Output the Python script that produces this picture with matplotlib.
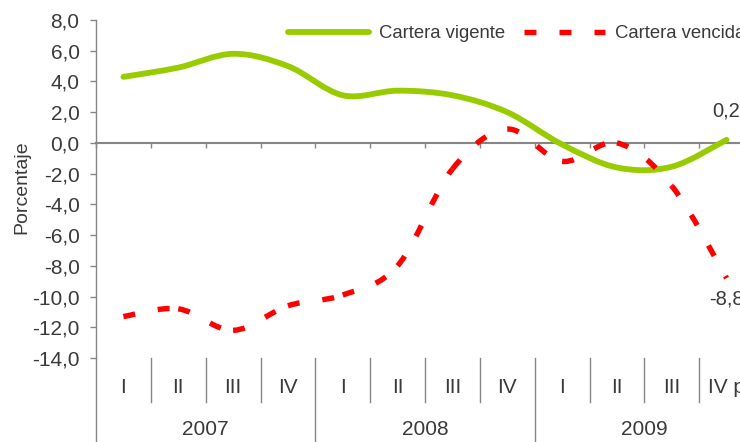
import numpy as np
import matplotlib
matplotlib.use("Agg")
import matplotlib.pyplot as plt
from matplotlib.path import Path
from matplotlib.patches import PathPatch
from matplotlib.lines import Line2D

plt.rcParams['font.family'] = ['Liberation Sans', 'DejaVu Sans']
plt.rcParams['lines.scale_dashes'] = False

# ---- data ----
quarters = ["I", "II", "III", "IV", "I", "II", "III", "IV", "I", "II", "III", "IV p"]
years = ["2007", "2008", "2009"]
vigente = [4.3, 4.9, 5.8, 5.0, 3.1, 3.4, 3.1, 2.0, -0.1, -1.6, -1.55, 0.2]
vencida = [-11.3, -10.8, -12.2, -10.6, -9.9, -8.0, -1.7, 0.9, -1.2, 0.0, -2.8, -8.8]
series_names = ["Cartera vigente", "Cartera vencida"]
yticks = np.arange(-14, 8.1, 2)

GREEN = "#99CC00"
RED = "#FF0000"
GRAY = "#868686"
TXT = "#3a3a3a"

x = np.arange(len(quarters)) + 0.5


def smooth_segments(xs, ys):
    """Bezier control points (Excel-like smoothed line) for each segment."""
    P = np.column_stack([xs, ys]).astype(float)
    n = len(P)
    m = np.zeros_like(P)
    for i in range(n):
        a = P[max(i - 1, 0)]
        b = P[min(i + 1, n - 1)]
        m[i] = (b - a) / 2.0
    segs = []
    for i in range(n - 1):
        segs.append([P[i], P[i] + m[i] / 3.0, P[i + 1] - m[i + 1] / 3.0, P[i + 1]])
    return segs


fig = plt.figure(figsize=(7.4, 4.42), dpi=100)
ax = fig.add_axes([96 / 740, 1 - 358 / 442, (754 - 96) / 740, 338 / 442])
ax.set_xlim(0, 12)
ax.set_ylim(-14, 8)

# green smooth line (single path)
segs = smooth_segments(x, vigente)
verts = [segs[0][0]]
codes = [Path.MOVETO]
for s in segs:
    verts += [s[1], s[2], s[3]]
    codes += [Path.CURVE4] * 3
ax.add_patch(PathPatch(Path(verts, codes), facecolor='none', edgecolor=GREEN,
                       lw=4.2, capstyle='round', joinstyle='round', zorder=3))

# red dashed smooth line: dash pattern restarts at each point (as in Excel)
for s in smooth_segments(x, vencida):
    ax.add_patch(PathPatch(Path(s, [Path.MOVETO] + [Path.CURVE4] * 3),
                           facecolor='none', edgecolor=RED, lw=3.9,
                           linestyle=(0, (8.6, 16.6)), capstyle='butt', zorder=4))

# axes styling
for side in ['top', 'right']:
    ax.spines[side].set_visible(False)
ax.spines['left'].set_color(GRAY)
ax.spines['left'].set_linewidth(1.0)
ax.spines['bottom'].set_position(('data', 0))
ax.spines['bottom'].set_color(GRAY)
ax.spines['bottom'].set_linewidth(1.5)
ax.set_yticks(yticks)
ax.set_yticklabels([f"{v:.1f}".replace('.', ',') for v in yticks])
ax.set_xticks(np.arange(0, 13))
ax.tick_params(axis='x', direction='out', length=3.6, width=1, color=GRAY,
               labelbottom=False)
ax.tick_params(axis='y', direction='out', length=4.3, width=1, color=GRAY,
               pad=7.5, labelsize=15, labelcolor=TXT)
ax.set_ylabel("Porcentaje", fontsize=14, color=TXT)
ax.yaxis.set_label_coords(-0.100, 0.506)

# category axis below the plot
btr = ax.get_xaxis_transform()
ax.plot([0, 0], [0, -0.26], transform=btr, color=GRAY, lw=1, clip_on=False)
for b in range(1, 12):
    bottom = -0.26 if b % 4 == 0 else -0.13
    ax.plot([b, b], [0, bottom], transform=btr, color=GRAY, lw=1, clip_on=False)
for xi, q in zip(x, quarters):
    ax.text(xi, -0.086, q, transform=btr, ha='center', va='center',
            fontsize=15, color=TXT)
for j, yr in enumerate(years):
    ax.text(4 * j + 2, -0.213, yr, transform=btr, ha='center', va='center',
            fontsize=15, color=TXT)

# data labels at last point
ax.annotate(f"{vigente[-1]:.1f}".replace('.', ','), (x[-1], vigente[-1]),
            xytext=(0, 21), textcoords='offset points', ha='center', va='center',
            fontsize=14.5, color=TXT, annotation_clip=False)
ax.annotate(f"{vencida[-1]:.1f}".replace('.', ','), (x[-1], vencida[-1]),
            xytext=(0, -15), textcoords='offset points', ha='center', va='center',
            fontsize=14.5, color=TXT, annotation_clip=False)

# legend
handles = [Line2D([], [], color=GREEN, lw=4.2, solid_capstyle='round'),
           Line2D([], [], color=RED, lw=3.9, linestyle=(0, (8.6, 16.6)),
                  dash_capstyle='butt')]
fig.legend(handles, series_names, loc='center left',
           bbox_to_anchor=(288 / 740, 1 - 34 / 442), ncol=2, frameon=False,
           fontsize=13.3, handlelength=4.4, handletextpad=0.55, columnspacing=1.0,
           borderpad=0, borderaxespad=0, labelcolor=TXT)

fig.savefig("out.png", dpi=100)
